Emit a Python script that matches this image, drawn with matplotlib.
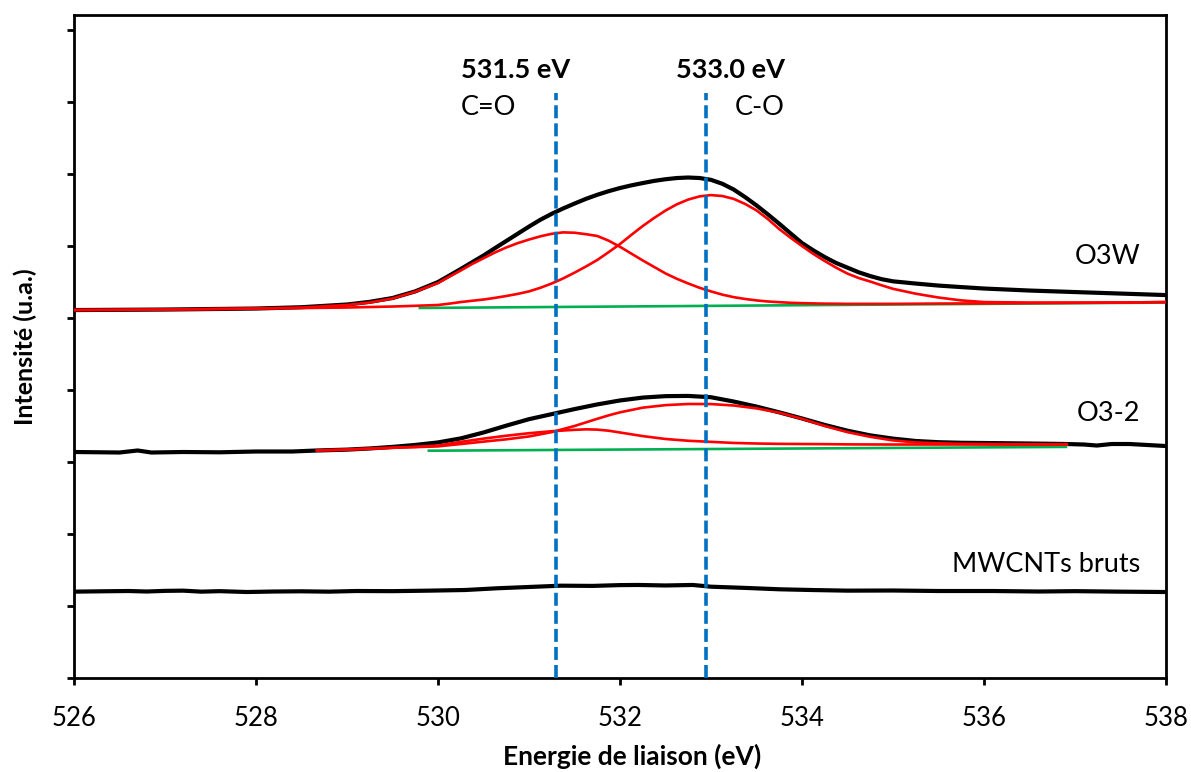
import matplotlib.pyplot as plt

plt.rcParams['font.family'] = ['Lato', 'DejaVu Sans']
plt.rcParams['lines.solid_joinstyle'] = 'round'

# --- O3W sample (energy grid shared by envelope and both components)
e_o3w = [526.0, 527.0, 528.0, 528.5, 529.0, 529.25, 529.5, 529.75,
         530.0, 530.125, 530.25, 530.375, 530.5, 530.625, 530.75, 530.875,
         531.0, 531.125, 531.25, 531.375, 531.5, 531.625, 531.75, 531.875,
         532.0, 532.125, 532.25, 532.375, 532.5, 532.625, 532.75, 532.875,
         533.0, 533.125, 533.25, 533.375, 533.5, 533.625, 533.75, 533.875,
         534.0, 534.125, 534.25, 534.375, 534.5, 534.625, 534.75, 534.875,
         535.0, 535.25, 535.5, 535.75, 536.0, 536.5, 537.0, 537.5, 538.0]
o3w_env = [5.111, 5.118, 5.132, 5.150, 5.188, 5.225, 5.278, 5.370,
           5.500, 5.590, 5.681, 5.775, 5.868, 5.970, 6.070, 6.170,
           6.270, 6.365, 6.448, 6.522, 6.590, 6.655, 6.712, 6.762,
           6.806, 6.843, 6.875, 6.905, 6.928, 6.945, 6.952, 6.945,
           6.920, 6.865, 6.785, 6.680, 6.565, 6.440, 6.310, 6.175,
           6.042, 5.940, 5.847, 5.765, 5.700, 5.635, 5.583, 5.540,
           5.510, 5.479, 5.451, 5.430, 5.410, 5.382, 5.361, 5.340, 5.319]
o3w_co_double = [5.111, 5.118, 5.132, 5.145, 5.181, 5.215, 5.271, 5.365,
                 5.486, 5.575, 5.660, 5.750, 5.830, 5.910, 5.980, 6.040,
                 6.090, 6.135, 6.170, 6.190, 6.185, 6.165, 6.140, 6.075,
                 5.990, 5.895, 5.800, 5.710, 5.620, 5.545, 5.480, 5.420,
                 5.370, 5.325, 5.290, 5.265, 5.245, 5.230, 5.220, 5.212,
                 5.207, 5.203, 5.200, 5.199, 5.197, 5.197, 5.197, 5.197,
                 5.197, 5.199, 5.201, 5.202, 5.204, 5.208, 5.211, 5.215, 5.222]
o3w_co_single = [5.111, 5.118, 5.132, 5.139, 5.146, 5.153, 5.160, 5.170,
                 5.181, 5.200, 5.222, 5.240, 5.257, 5.280, 5.306, 5.335,
                 5.370, 5.420, 5.480, 5.550, 5.630, 5.715, 5.806, 5.915,
                 6.028, 6.155, 6.278, 6.390, 6.493, 6.580, 6.646, 6.690,
                 6.708, 6.695, 6.655, 6.585, 6.496, 6.375, 6.236, 6.115,
                 6.000, 5.890, 5.792, 5.700, 5.617, 5.555, 5.507, 5.455,
                 5.406, 5.338, 5.285, 5.245, 5.222, 5.215, 5.215, 5.215, 5.222]
e_o3w_bg = [529.8, 538.0]
o3w_bg = [5.140, 5.215]

# --- O3-2 sample
e_o32 = [526.0, 526.3, 526.5, 526.7, 526.85, 527.2, 527.6, 528.0, 528.4, 528.67,
         529.0, 529.25, 529.5, 529.75, 530.0, 530.25, 530.5, 530.75, 531.0, 531.25,
         531.5, 531.75, 532.0, 532.25, 532.5, 532.75, 533.0, 533.25, 533.5, 533.75,
         534.0, 534.25, 534.5, 534.75, 535.0, 535.25, 535.5, 535.75, 536.0, 536.5,
         536.91, 537.1, 537.24, 537.4, 537.6, 537.8, 538.0]
o32_env = [3.139, 3.135, 3.132, 3.160, 3.132, 3.139, 3.135, 3.146, 3.146, 3.160,
           3.172, 3.188, 3.210, 3.237, 3.272, 3.328, 3.410, 3.505, 3.595, 3.665,
           3.735, 3.800, 3.855, 3.895, 3.915, 3.918, 3.900, 3.840, 3.770, 3.690,
           3.605, 3.515, 3.435, 3.370, 3.325, 3.292, 3.275, 3.267, 3.264, 3.257,
           3.250, 3.243, 3.229, 3.250, 3.250, 3.236, 3.222]
e_o32_fit = [528.67, 529.0, 529.25, 529.5, 529.75, 530.0, 530.25, 530.5, 530.75, 531.0,
             531.25, 531.5, 531.625, 531.75, 531.875, 532.0, 532.25, 532.5, 532.75, 533.0,
             533.25, 533.5, 533.75, 534.0, 534.25, 534.5, 534.75, 535.0, 535.25, 535.5,
             535.75, 536.0, 536.5, 536.91]
o32_co_single = [3.160, 3.172, 3.185, 3.197, 3.207, 3.217, 3.250, 3.283, 3.315, 3.355,
                 3.415, 3.500, 3.550, 3.600, 3.648, 3.690, 3.755, 3.790, 3.806, 3.805,
                 3.785, 3.745, 3.685, 3.600, 3.500, 3.415, 3.350, 3.300, 3.272, 3.260,
                 3.253, 3.250, 3.245, 3.243]
o32_co_double = [3.160, 3.174, 3.186, 3.198, 3.210, 3.228, 3.280, 3.325, 3.365, 3.400,
                 3.428, 3.447, 3.454, 3.450, 3.435, 3.410, 3.360, 3.320, 3.295, 3.280,
                 3.265, 3.257, 3.252, 3.250, 3.248, 3.245, 3.244, 3.243, 3.243, 3.243,
                 3.243, 3.243, 3.243, 3.243]
e_o32_bg = [529.9, 536.9]
o32_bg = [3.157, 3.210]

# --- raw MWCNTs
e_raw = [526.0, 526.3, 526.6, 526.8, 527.0, 527.2, 527.4, 527.6, 527.9, 528.2, 528.5, 528.8,
         529.1, 529.5, 529.9, 530.3, 530.65, 531.0, 531.35, 531.7, 532.0, 532.2, 532.5, 532.8,
         533.0, 533.4, 533.75, 534.1, 534.5, 535.0, 535.5, 536.1, 536.6, 537.0, 537.5, 538.0]
raw_env = [1.199, 1.204, 1.208, 1.201, 1.210, 1.213, 1.199, 1.206, 1.194, 1.201, 1.204, 1.199,
           1.208, 1.206, 1.213, 1.222, 1.246, 1.264, 1.282, 1.279, 1.290, 1.292, 1.285, 1.292,
           1.268, 1.250, 1.232, 1.222, 1.213, 1.215, 1.208, 1.208, 1.201, 1.206, 1.199, 1.194]

# reference binding energies
peak_lines = [531.3, 532.95]
peak_values = ['531.5 eV', '533.0 eV']
peak_names = ['C=O', 'C-O']
sample_names = ['O3W', 'O3-2', 'MWCNTs bruts']
sample_label_y = [5.85, 3.68, 1.57]

RED = '#FF0000'
GREEN = '#00B050'
BLUE = '#0070C0'

fig = plt.figure(figsize=(11.91, 7.72), dpi=100)
ax = fig.add_axes([0.0621, 0.1218, 0.9169, 0.8588])

# linear backgrounds
ax.plot(e_o3w_bg, o3w_bg, color=GREEN, lw=1.9, zorder=2)
ax.plot(e_o32_bg, o32_bg, color=GREEN, lw=1.9, zorder=2)

# measured envelopes
ax.plot(e_o3w, o3w_env, color='black', lw=3.0, zorder=1)
ax.plot(e_o32, o32_env, color='black', lw=3.0, zorder=1)
ax.plot(e_raw, raw_env, color='black', lw=3.0, zorder=1)

# fitted components
ax.plot(e_o3w, o3w_co_double, color=RED, lw=1.9, zorder=3)
ax.plot(e_o3w, o3w_co_single, color=RED, lw=1.9, zorder=3)
ax.plot(e_o32_fit, o32_co_double, color=RED, lw=1.9, zorder=3)
ax.plot(e_o32_fit, o32_co_single, color=RED, lw=1.9, zorder=3)

# dashed markers at the C=O / C-O positions
for x in peak_lines:
    ax.plot([x, x], [0, 8.12], color=BLUE, lw=2.6, dashes=(3.6, 1.4), zorder=4)

ax.text(530.25, 8.44, peak_values[0], fontsize=19.5, fontweight='bold', ha='left', va='center')
ax.text(530.25, 7.92, peak_names[0], fontsize=19.5, ha='left', va='center')
ax.text(533.81, 8.44, peak_values[1], fontsize=19.5, fontweight='bold', ha='right', va='center')
ax.text(533.81, 7.92, peak_names[1], fontsize=19.5, ha='right', va='center')

for name, y in zip(sample_names, sample_label_y):
    ax.text(537.72, y, name, fontsize=19.5, ha='right', va='center')

ax.set_xlim(526, 538)
ax.set_ylim(0, 9.21)
ax.set_xticks(range(526, 539, 2))
ax.set_yticks(range(10))
ax.set_yticklabels([])
ax.tick_params(direction='out', length=5, width=2, labelsize=18.5, pad=15)
for sp in ax.spines.values():
    sp.set_linewidth(2)

ax.set_xlabel('Energie de liaison (eV)', fontsize=19, fontweight='bold')
ax.xaxis.set_label_coords(0.511, -0.099)
ax.set_ylabel('Intensité (u.a.)', fontsize=18, fontweight='bold')
ax.yaxis.set_label_coords(-0.034, 0.5)

fig.savefig('out.png', dpi=100)
